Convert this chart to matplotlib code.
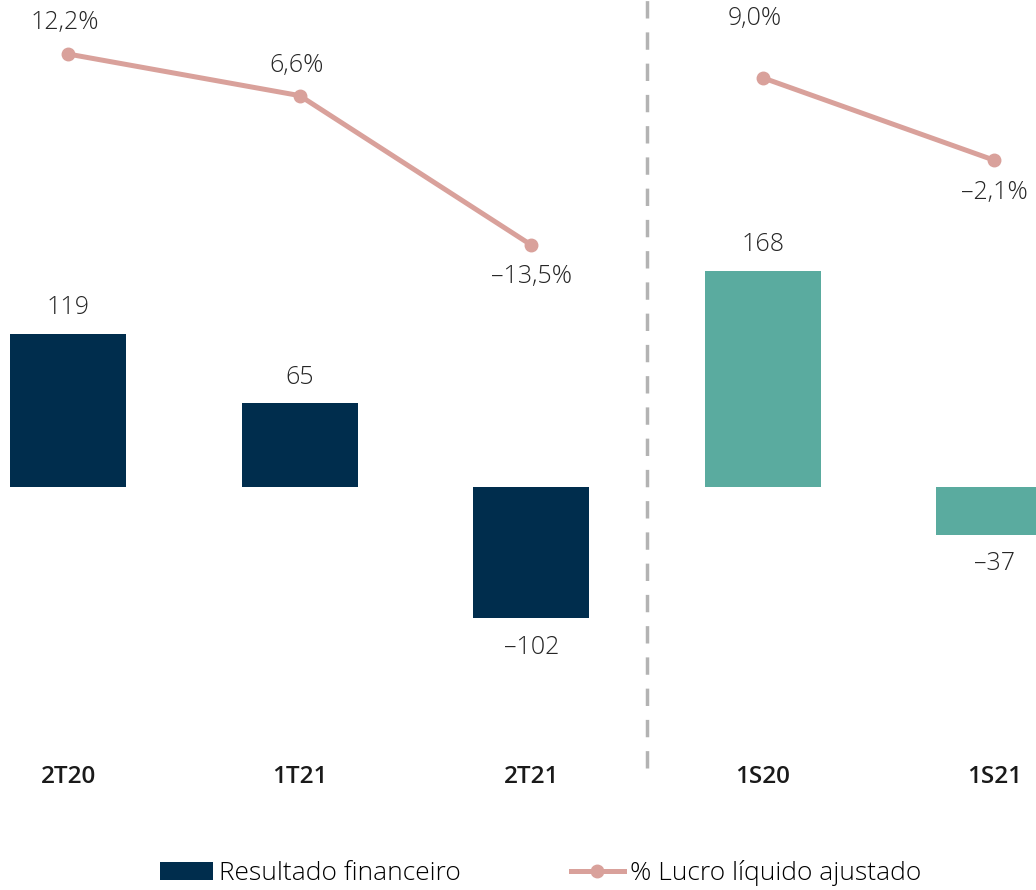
# grafico resultado financeiro x % lucro liquido ajustado

import numpy as np
import matplotlib
matplotlib.use('Agg')
import matplotlib.pyplot as plt
from matplotlib.lines import Line2D
from matplotlib.patches import Patch

categories = ['2T20', '1T21', '2T21', '1S20', '1S21']
resultado = [119, 65, -102, 168, -37]
resultado_labels = ['119', '65', '–102', '168', '–37']
margem = [12.2, 6.6, -13.5, 9.0, -2.1]
margem_labels = ['12,2%', '6,6%', '–13,5%', '9,0%', '–2,1%']

navy = '#002d4d'
teal = '#5aab9f'
salmon = '#d9a19b'

plt.rcParams['font.family'] = ['Open Sans', 'DejaVu Sans']

fig = plt.figure(figsize=(10.36, 8.9), dpi=100)
ax = fig.add_axes([0, 140 / 890, 1, 750 / 890])
ax2 = ax.twinx()

x = np.arange(len(categories))
colors = [navy] * 3 + [teal] * 2
ax.bar(x, resultado, width=0.5, color=colors, zorder=2)

ax.set_xlim(-0.294, 4.18)
ax.set_ylim(-204.7, 379)
ax2.set_ylim(-81.47, 19.47)

for i, v in enumerate(resultado):
    if v >= 0:
        ax.annotate(resultado_labels[i], (x[i], v), xytext=(0, 10), textcoords='offset points',
                    ha='center', va='bottom', fontsize=18, fontweight='light', color='#262626')
    else:
        ax.annotate(resultado_labels[i], (x[i], v), xytext=(0, -12), textcoords='offset points',
                    ha='center', va='top', fontsize=18, fontweight='light', color='#262626')

# line in two pieces (trimestres / semestres)
ax2.plot(x[:3], margem[:3], color=salmon, lw=3.6, marker='o', ms=9, zorder=3)
ax2.plot(x[3:], margem[3:], color=salmon, lw=3.6, marker='o', ms=9, zorder=3)
label_dy = [14, 13, -14, 34, -14]
label_dx = [-2, -2, 0, -6, 0]
for i, v in enumerate(margem):
    ax2.annotate(margem_labels[i], (x[i], v), xytext=(label_dx[i], label_dy[i]), textcoords='offset points',
                 ha='center', va='bottom' if label_dy[i] > 0 else 'top',
                 fontsize=18, fontweight='light', color='#262626')

ax.axvline(2.5, ymin=-0.024, ymax=1, color='#b3b3b3', lw=2.5, ls=(0, (5, 4)), clip_on=False, zorder=1)

for a in (ax, ax2):
    for s in a.spines.values():
        s.set_visible(False)
    a.set_yticks([])
ax.set_xticks(x)
ax.set_xticklabels(categories, fontsize=17.5, fontweight='semibold', color='#1a1a1a')
ax.tick_params(axis='x', length=0, pad=11)

handles = [Patch(facecolor=navy, label='Resultado financeiro'),
           Line2D([0], [0], color=salmon, lw=3.6, marker='o', ms=9, label='% Lucro líquido ajustado')]
leg = fig.legend(handles=handles, loc='center', bbox_to_anchor=(0.522, 0.019), ncol=2, frameon=False,
                 fontsize=19, handlelength=2.0, handletextpad=0.25, columnspacing=4.17)
for t in leg.get_texts():
    t.set_fontweight('light')

fig.savefig('out.png', dpi=100)
